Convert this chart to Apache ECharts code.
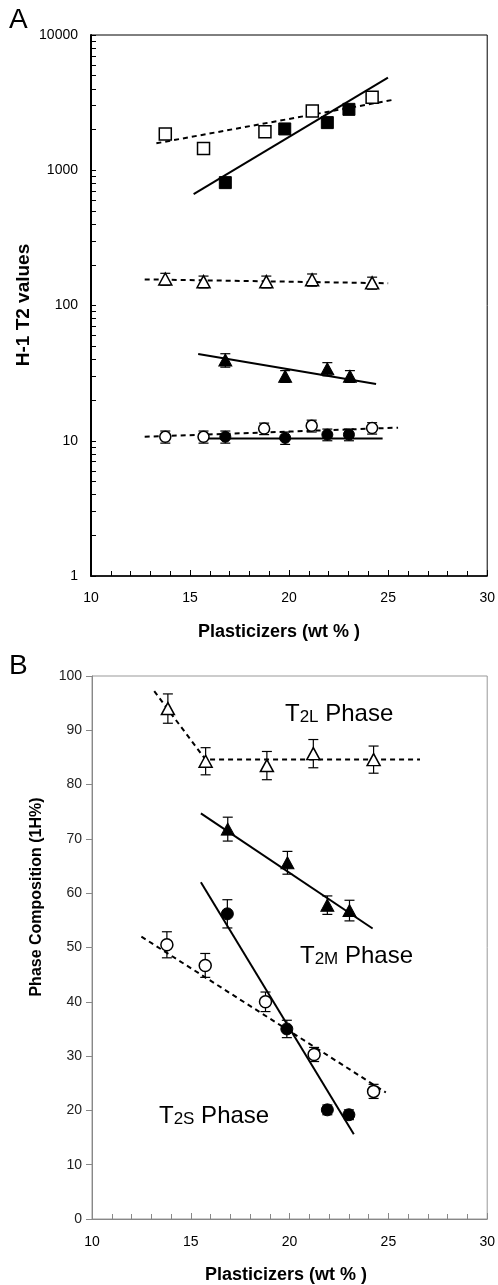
<!DOCTYPE html>
<html>
<head>
<meta charset="utf-8">
<script src="https://cdn.jsdelivr.net/npm/echarts@6/dist/echarts.min.js"></script>
<style>
html,body{margin:0;padding:0;background:#fff;}
#chart{width:498px;height:1285px;}
</style>
</head>
<body>
<div id="chart"></div>
<script>
// ---------- Panel A data (H-1 T2 values, log scale) ----------
const aOpenSqX = [13.75, 15.68, 18.78, 21.17, 24.19];
const aOpenSqY = [1850, 1450, 1930, 2740, 3460];
const aOpenSqE = [150, 115, 155, 220, 280];
const aFillSqX = [16.78, 19.78, 21.93, 23.02];
const aFillSqY = [810, 2020, 2250, 2820];
const aFillSqE = [65, 160, 180, 225];
const aOpenTriX = [13.75, 15.68, 18.85, 21.16, 24.19];
const aOpenTriY = [157, 150, 150, 155, 147];
const aOpenTriE = [16, 15, 15, 16, 15];
const aFillTriX = [16.78, 19.8, 21.93, 23.07];
const aFillTriY = [39.5, 30, 34, 30];
const aFillTriE = [4.5, 3, 3.8, 3];
const aOpenCirX = [13.75, 15.68, 18.74, 21.14, 24.19];
const aOpenCirY = [10.7, 10.7, 12.3, 12.9, 12.4];
const aOpenCirE = [1.1, 1.1, 1.2, 1.3, 1.2];
const aFillCirX = [16.78, 19.8, 21.93, 23.02];
const aFillCirY = [10.7, 10.5, 11.1, 11.1];
const aFillCirE = [1.1, 1.1, 1.1, 1.1];
// fit lines (end points)
const aFitOpenSqX = [13.3, 25.2],  aFitOpenSqY = [1583, 3306];
const aFitFillSqX = [15.18, 24.99], aFitFillSqY = [667, 4834];
const aFitOpenTriX = [12.71, 25.0], aFitOpenTriY = [156, 146];
const aFitFillTriX = [15.41, 24.39], aFitFillTriY = [43.8, 26.3];
const aFitOpenCirX = [12.71, 25.5], aFitOpenCirY = [10.7, 12.5];
const aFitFillCirX = [15.48, 24.72], aFitFillCirY = [10.4, 10.4];

// ---------- Panel B data (Phase composition, %) ----------
const bOpenTriX = [13.84, 15.75, 18.85, 21.2, 24.25];
const bOpenTriY = [94, 84.3, 83.5, 85.7, 84.6];
const bOpenTriE = [2.7, 2.5, 2.6, 2.6, 2.5];
const bFillTriX = [16.87, 19.89, 21.91, 23.03];
const bFillTriY = [71.8, 65.6, 57.8, 56.8];
const bFillTriE = [2.2, 2.1, 1.7, 1.9];
const bFillCirX = [16.85, 19.86, 21.91, 23.0];
const bFillCirY = [56.2, 35, 20.1, 19.2];
const bFillCirE = [2.6, 1.6, 0.9, 0.9];
const bOpenCirX = [13.79, 15.73, 18.78, 21.24, 24.25];
const bOpenCirY = [50.5, 46.7, 40, 30.3, 23.5];
const bOpenCirE = [2.4, 2.2, 1.8, 1.3, 1.3];
const bFitOpenTriX = [13.15, 15.75, 26.6], bFitOpenTriY = [97.2, 84.6, 84.6];
const bFitFillTriX = [15.51, 24.2], bFitFillTriY = [74.7, 53.5];
const bFitFillCirX = [15.51, 23.25], bFitFillCirY = [62, 15.6];
const bFitOpenCirX = [12.5, 24.87], bFitOpenCirY = [52, 23.3];

// ---------- Axis ticks / labels ----------
const xTickLabels = [10, 15, 20, 25, 30];
const aYLabels = [1, 10, 100, 1000, 10000];
const bYLabels = [0, 10, 20, 30, 40, 50, 60, 70, 80, 90, 100];
const aYTicks = [];
aYLabels.forEach((d, i) => {
  if (i === aYLabels.length - 1) { aYTicks.push(d); return; }
  for (let k = 1; k <= 9; k++) aYTicks.push(d * k);
});

const FONT = 'Liberation Sans, Arial, sans-serif';
const pts = (xs, ys) => xs.map((x, i) => [x, ys[i]]);
const errPts = (xs, ys, es) => xs.map((x, i) => [x, ys[i], es[i]]);

function renderErr(params, api) {
  const x = api.value(0), y = api.value(1), e = api.value(2);
  const hi = api.coord([x, y + e]);
  const lo = api.coord([x, y - e]);
  const w = 5;
  const st = { stroke: '#000', lineWidth: 1.2 };
  return {
    type: 'group',
    children: [
      { type: 'line', shape: { x1: hi[0], y1: hi[1], x2: lo[0], y2: lo[1] }, style: st },
      { type: 'line', shape: { x1: hi[0] - w, y1: hi[1], x2: hi[0] + w, y2: hi[1] }, style: st },
      { type: 'line', shape: { x1: lo[0] - w, y1: lo[1], x2: lo[0] + w, y2: lo[1] }, style: st }
    ]
  };
}

const series = [];
function addSet(grid, xs, ys, es, symbol, size, filled) {
  series.push({
    type: 'custom', xAxisIndex: grid, yAxisIndex: grid, z: 3,
    renderItem: renderErr, encode: { x: 0, y: 1 },
    data: errPts(xs, ys, es), silent: true
  });
  series.push({
    type: 'scatter', xAxisIndex: grid, yAxisIndex: grid, z: 5,
    symbol: symbol, symbolSize: size,
    itemStyle: filled ? { color: '#000', borderColor: '#000', borderWidth: 1, opacity: 1 }
                      : { color: '#fff', borderColor: '#000', borderWidth: 1.5, opacity: 1 },
    data: pts(xs, ys)
  });
}
function addFit(grid, xs, ys, dashed) {
  series.push({
    type: 'line', xAxisIndex: grid, yAxisIndex: grid, z: 2,
    showSymbol: false, symbol: 'none', silent: true,
    lineStyle: { color: '#000', width: 2, type: dashed ? [5, 4] : 'solid' },
    data: pts(xs, ys)
  });
}

// Panel A
addFit(0, aFitOpenSqX, aFitOpenSqY, true);
addFit(0, aFitFillSqX, aFitFillSqY, false);
addFit(0, aFitOpenTriX, aFitOpenTriY, true);
addFit(0, aFitFillTriX, aFitFillTriY, false);
addFit(0, aFitOpenCirX, aFitOpenCirY, true);
addFit(0, aFitFillCirX, aFitFillCirY, false);
addSet(0, aOpenSqX, aOpenSqY, aOpenSqE, 'rect', 12, false);
addSet(0, aFillSqX, aFillSqY, aFillSqE, 'rect', 12, true);
addSet(0, aOpenTriX, aOpenTriY, aOpenTriE, 'triangle', [13, 12], false);
addSet(0, aFillTriX, aFillTriY, aFillTriE, 'triangle', [13, 12], true);
addSet(0, aOpenCirX, aOpenCirY, aOpenCirE, 'circle', 11, false);
addSet(0, aFillCirX, aFillCirY, aFillCirE, 'circle', 11, true);
// Panel B
addFit(1, bFitOpenTriX, bFitOpenTriY, true);
addFit(1, bFitFillTriX, bFitFillTriY, false);
addFit(1, bFitFillCirX, bFitFillCirY, false);
addFit(1, bFitOpenCirX, bFitOpenCirY, true);
addSet(1, bOpenTriX, bOpenTriY, bOpenTriE, 'triangle', [13, 12], false);
addSet(1, bFillTriX, bFillTriY, bFillTriE, 'triangle', [13, 12], true);
addSet(1, bFillCirX, bFillCirY, bFillCirE, 'circle', 12, true);
addSet(1, bOpenCirX, bOpenCirY, bOpenCirE, 'circle', 12, false);

function xAxisCfg(grid, color, margin) {
  return {
    type: 'value', gridIndex: grid, min: 10, max: 30, interval: 5,
    axisLine: { show: true, onZero: false, lineStyle: { color: color, width: grid === 0 ? 1.5 : 1 } },
    axisTick: { show: true, inside: true, length: 6, lineStyle: { color: color } },
    minorTick: { show: true, splitNumber: 5, length: 5, lineStyle: { color: color } },
    splitLine: { show: false },
    axisLabel: { margin: margin, fontSize: 14, color: '#000', fontFamily: FONT,
                 customValues: xTickLabels }
  };
}

const option = {
  animation: false,
  backgroundColor: '#fff',
  grid: [
    { left: 91, top: 35, width: 398, height: 541, show: true, borderColor: '#000', borderWidth: 1, backgroundColor: 'transparent' },
    { left: 92, top: 676, width: 399, height: 543, show: true, borderColor: '#999', borderWidth: 1, backgroundColor: 'transparent' }
  ],
  xAxis: [xAxisCfg(0, '#000', 15), xAxisCfg(1, '#888', 16)],
  yAxis: [
    {
      type: 'log', logBase: 10, gridIndex: 0, min: 1, max: 10000,
      axisLine: { show: true, lineStyle: { color: '#000', width: 2 } },
      axisTick: { show: true, inside: true, length: 5, lineStyle: { color: '#000' }, customValues: aYTicks },
      splitLine: { show: false }, minorTick: { show: false },
      axisLabel: { margin: 13, fontSize: 14, color: '#000', fontFamily: FONT, customValues: aYLabels,
                   formatter: v => String(Math.round(v)) }
    },
    {
      type: 'value', gridIndex: 1, min: 0, max: 100, interval: 10,
      axisLine: { show: true, lineStyle: { color: '#888', width: 1 } },
      axisTick: { show: true, inside: false, length: 6, lineStyle: { color: '#888' } },
      splitLine: { show: false },
      axisLabel: { margin: 10, fontSize: 14, color: '#222', fontFamily: FONT, customValues: bYLabels }
    }
  ],
  graphic: [
    { type: 'text', left: 9, top: 6, style: { text: 'A', font: '28px ' + FONT, fill: '#000' } },
    { type: 'text', left: 9, top: 652, style: { text: 'B', font: '28px ' + FONT, fill: '#000' } },
    { type: 'text', x: 24, y: 305, rotation: Math.PI / 2,
      style: { text: 'H-1 T2 values', font: 'bold 19px ' + FONT, fill: '#000', align: 'center', verticalAlign: 'middle' } },
    { type: 'text', x: 279, y: 632,
      style: { text: 'Plasticizers (wt % )', font: 'bold 18px ' + FONT, fill: '#000', align: 'center', verticalAlign: 'middle' } },
    { type: 'text', x: 37, y: 897, rotation: Math.PI / 2,
      style: { text: 'Phase Composition (1H%)', font: 'bold 16px ' + FONT, fill: '#000', align: 'center', verticalAlign: 'middle' } },
    { type: 'text', x: 286, y: 1275,
      style: { text: 'Plasticizers (wt % )', font: 'bold 18px ' + FONT, fill: '#000', align: 'center', verticalAlign: 'middle' } },
    { type: 'text', left: 285, top: 702,
      style: { text: '{a|T}{b|2L}{a| Phase}', rich: {
        a: { fontSize: 24, fontFamily: FONT, fill: '#000', lineHeight: 26, verticalAlign: 'bottom' },
        b: { fontSize: 17, fontFamily: FONT, fill: '#000', lineHeight: 20, verticalAlign: 'bottom' } } } },
    { type: 'text', left: 300, top: 944,
      style: { text: '{a|T}{b|2M}{a| Phase}', rich: {
        a: { fontSize: 24, fontFamily: FONT, fill: '#000', lineHeight: 26, verticalAlign: 'bottom' },
        b: { fontSize: 17, fontFamily: FONT, fill: '#000', lineHeight: 20, verticalAlign: 'bottom' } } } },
    { type: 'text', left: 159, top: 1104,
      style: { text: '{a|T}{b|2S}{a| Phase}', rich: {
        a: { fontSize: 24, fontFamily: FONT, fill: '#000', lineHeight: 26, verticalAlign: 'bottom' },
        b: { fontSize: 17, fontFamily: FONT, fill: '#000', lineHeight: 20, verticalAlign: 'bottom' } } } }
  ],
  series: series
};

const chart = echarts.init(document.getElementById('chart'), null, { renderer: 'canvas' });
chart.setOption(option);
</script>
</body>
</html>
